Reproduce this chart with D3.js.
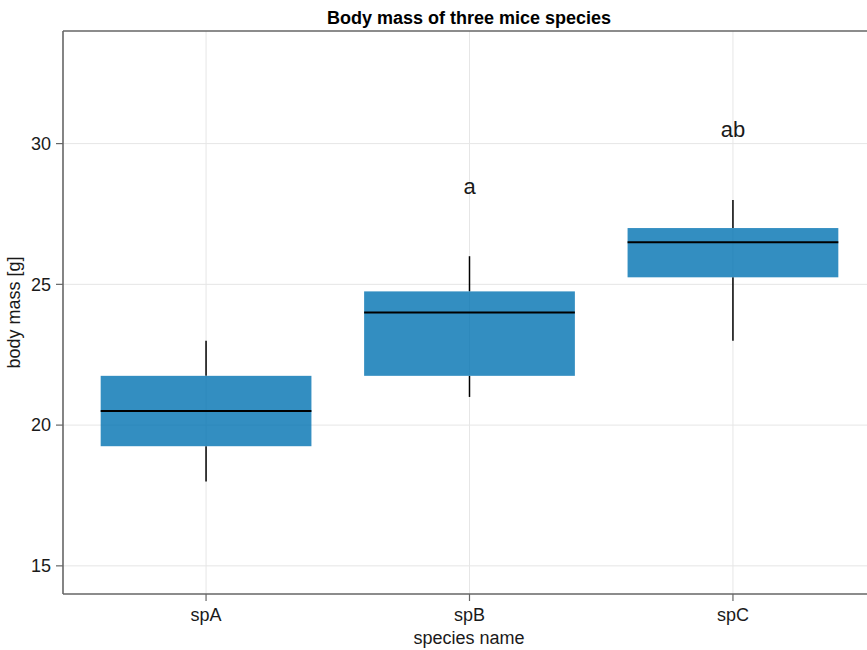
<!DOCTYPE html>
<html><head><meta charset="utf-8">
<script src="https://cdn.jsdelivr.net/npm/d3@7"></script>
<style>body{margin:0;background:#fff}svg{display:block;font-family:"Liberation Sans",Arial,sans-serif}</style>
</head><body><svg id="c" width="867" height="650"></svg>
<script>
const categories = ["spA", "spB", "spC"];
const whiskerLow = [18, 21, 23];
const q1 = [19.25, 21.75, 25.25];
const median = [20.5, 24, 26.5];
const q3 = [21.75, 24.75, 27];
const whiskerHigh = [23, 26, 28];
const letters = ["", "a", "ab"];
const letterY = [null, 28.5, 30.5];
const yTicks = [15, 20, 25, 30];

const svg = d3.select("#c");
const L = 63, T = 31, R = 876, B = 594;
const x = d3.scaleLinear().domain([0.457, 3.543]).range([L, R]);
const y = d3.scaleLinear().domain([14, 34]).range([B, T]);
const xpos = i => x(i + 1);
const halfW = 0.4;

const gridCol = "#e6e6e6";
// grid
svg.append("g").selectAll("line").data(yTicks).join("line")
  .attr("x1", L).attr("x2", R).attr("y1", d => y(d)).attr("y2", d => y(d))
  .attr("stroke", gridCol).attr("stroke-width", 1);
svg.append("g").selectAll("line").data(categories).join("line")
  .attr("x1", (d, i) => xpos(i)).attr("x2", (d, i) => xpos(i)).attr("y1", T).attr("y2", B)
  .attr("stroke", gridCol).attr("stroke-width", 1);

const data = categories.map((c, i) => ({i, c, lo: whiskerLow[i], q1: q1[i], med: median[i], q3: q3[i], hi: whiskerHigh[i]}));
const g = svg.append("g");
// whiskers
g.selectAll(".wl").data(data).join("line")
  .attr("x1", d => xpos(d.i)).attr("x2", d => xpos(d.i))
  .attr("y1", d => y(d.lo)).attr("y2", d => y(d.q1))
  .attr("stroke", "#000").attr("stroke-width", 1.5);
g.selectAll(".wh").data(data).join("line")
  .attr("x1", d => xpos(d.i)).attr("x2", d => xpos(d.i))
  .attr("y1", d => y(d.hi)).attr("y2", d => y(d.q3))
  .attr("stroke", "#000").attr("stroke-width", 1.5);
// boxes
g.selectAll("rect").data(data).join("rect")
  .attr("x", d => x(d.i + 1 - halfW)).attr("width", d => x(d.i + 1 + halfW) - x(d.i + 1 - halfW))
  .attr("y", d => y(d.q3)).attr("height", d => y(d.q1) - y(d.q3))
  .attr("fill", "#0072B2").attr("fill-opacity", 0.8);
// medians
g.selectAll(".med").data(data).join("line")
  .attr("x1", d => x(d.i + 1 - halfW)).attr("x2", d => x(d.i + 1 + halfW))
  .attr("y1", d => y(d.med)).attr("y2", d => y(d.med))
  .attr("stroke", "#000").attr("stroke-width", 2);

// letters
svg.append("g").selectAll("text").data(data.filter(d => letters[d.i])).join("text")
  .attr("x", d => xpos(d.i)).attr("y", d => y(letterY[d.i]))
  .attr("text-anchor", "middle").attr("dy", "0.35em")
  .attr("font-size", 22).attr("fill", "#1a1a1a").text(d => letters[d.i]);

// spines
const spine = "#666";
svg.append("line").attr("x1", L).attr("x2", R).attr("y1", T).attr("y2", T).attr("stroke", spine).attr("stroke-width", 1.6);
svg.append("line").attr("x1", L).attr("x2", R).attr("y1", B).attr("y2", B).attr("stroke", spine).attr("stroke-width", 1.6);
svg.append("line").attr("x1", L).attr("x2", L).attr("y1", T).attr("y2", B).attr("stroke", spine).attr("stroke-width", 1.6);

// y axis ticks
const ya = svg.append("g");
ya.selectAll("line").data(yTicks).join("line")
  .attr("x1", L - 7).attr("x2", L).attr("y1", d => y(d)).attr("y2", d => y(d))
  .attr("stroke", spine).attr("stroke-width", 1.2);
ya.selectAll("text").data(yTicks).join("text")
  .attr("x", L - 12).attr("y", d => y(d)).attr("dy", "0.35em").attr("text-anchor", "end")
  .attr("font-size", 18).attr("fill", "#1a1a1a").text(d => d);
// x axis ticks
const xa = svg.append("g");
xa.selectAll("line").data(categories).join("line")
  .attr("x1", (d, i) => xpos(i)).attr("x2", (d, i) => xpos(i)).attr("y1", B).attr("y2", B + 7)
  .attr("stroke", spine).attr("stroke-width", 1.2);
xa.selectAll("text").data(categories).join("text")
  .attr("x", (d, i) => xpos(i)).attr("y", B + 27).attr("text-anchor", "middle")
  .attr("font-size", 18).attr("fill", "#1a1a1a").text(d => d);

// labels
svg.append("text").attr("x", 469).attr("y", 644).attr("text-anchor", "middle")
  .attr("font-size", 18).attr("fill", "#1a1a1a").text("species name");
svg.append("text").attr("transform", `translate(14,${(T + B) / 2}) rotate(-90)`).attr("text-anchor", "middle")
  .attr("dy", "0.35em").attr("font-size", 18).attr("fill", "#1a1a1a").text("body mass [g]");
svg.append("text").attr("x", 469).attr("y", 24).attr("text-anchor", "middle")
  .attr("font-size", 18).attr("font-weight", "bold").attr("fill", "#000").text("Body mass of three mice species");
</script></body></html>
